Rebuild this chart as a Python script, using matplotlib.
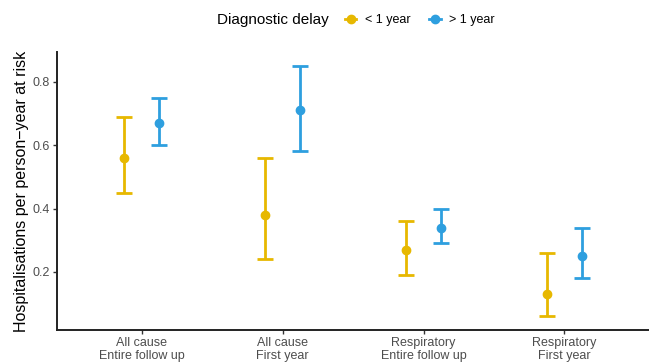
import numpy as np
import matplotlib.pyplot as plt
from matplotlib.lines import Line2D

plt.rcParams['font.family'] = ['Liberation Sans', 'DejaVu Sans']

# Data
categories = ["All cause\nEntire follow up", "All cause\nFirst year",
              "Respiratory\nEntire follow up", "Respiratory\nFirst year"]
groups = ["< 1 year", "> 1 year"]
colors = ["#E7B800", "#2E9FDF"]

rate_short = [0.56, 0.38, 0.27, 0.13]
low_short = [0.45, 0.24, 0.19, 0.06]
high_short = [0.69, 0.56, 0.36, 0.26]

rate_long = [0.67, 0.71, 0.34, 0.25]
low_long = [0.60, 0.58, 0.29, 0.18]
high_long = [0.75, 0.85, 0.40, 0.34]

rates = [rate_short, rate_long]
lows = [low_short, low_long]
highs = [high_short, high_long]

fig = plt.figure(figsize=(6.49, 3.63), dpi=100)
ax = fig.add_axes([0.088, 0.091, 0.912, 0.766])

x = np.arange(1, len(categories) + 1)
offsets = [-0.125, 0.125]
for k in range(2):
    r = np.array(rates[k])
    err = [r - np.array(lows[k]), np.array(highs[k]) - r]
    ax.errorbar(x + offsets[k], r, yerr=err, fmt='o', color=colors[k],
                ms=6, elinewidth=2, capsize=5.5, capthick=2)

ax.set_xlim(0.4, 4.6)
ax.set_ylim(0.017, 0.894)
ax.set_xticks(x)
ax.set_xticklabels(categories, fontsize=9, color='#4D4D4D', linespacing=1.15)
ax.set_yticks([0.2, 0.4, 0.6, 0.8])
ax.set_yticklabels(['0.2', '0.4', '0.6', '0.8'], fontsize=9, color='#4D4D4D')
ax.tick_params(length=3, width=1, color='#333333', pad=2)
ax.set_ylabel("Hospitalisations per person\u2212year at risk", fontsize=11.5, labelpad=3)

for s in ['top', 'right']:
    ax.spines[s].set_visible(False)
for s in ['left', 'bottom']:
    ax.spines[s].set_linewidth(1.4)
    ax.spines[s].set_color('#222222')

# legend on top
fig.text(0.334, 0.945, "Diagnostic delay", fontsize=11, va='center')
handles = [Line2D([], [], color=c, marker='o', ms=6, lw=2) for c in colors]
fig.legend(handles, groups, loc='center left', bbox_to_anchor=(0.522, 0.945),
           ncol=2, frameon=False, fontsize=9, handlelength=0.9,
           handletextpad=0.7, columnspacing=1.5, borderpad=0)

fig.savefig("out.png", dpi=100)
